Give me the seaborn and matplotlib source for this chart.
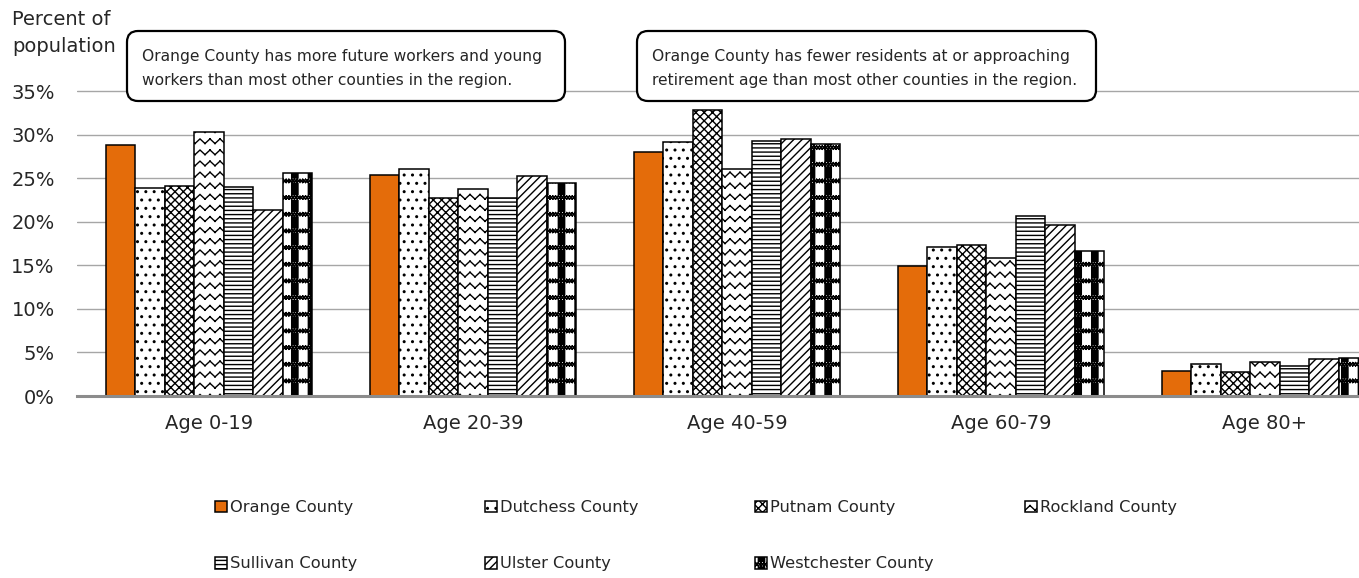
import warnings
import numpy as np
import pandas as pd
import matplotlib
matplotlib.use("Agg")
import matplotlib.pyplot as plt
import matplotlib.hatch as mhatch
from matplotlib.path import Path
from matplotlib.patches import FancyBboxPatch
from matplotlib.transforms import IdentityTransform
import seaborn as sns

# ---- data -------------------------------------------------------------
age_groups = ["Age 0-19", "Age 20-39", "Age 40-59", "Age 60-79", "Age 80+"]
counties = ["Orange County", "Dutchess County", "Putnam County", "Rockland County",
            "Sullivan County", "Ulster County", "Westchester County"]
orange_pct      = [28.8, 25.4, 28.0, 14.9, 2.9]
dutchess_pct    = [23.9, 26.1, 29.1, 17.1, 3.7]
putnam_pct      = [24.1, 22.7, 32.8, 17.3, 2.8]
rockland_pct    = [30.3, 23.8, 26.0, 15.8, 3.9]
sullivan_pct    = [24.0, 22.7, 29.3, 20.6, 3.4]
ulster_pct      = [21.3, 25.3, 29.5, 19.6, 4.3]
westchester_pct = [25.6, 24.4, 28.9, 16.6, 4.4]
y_ticks = [0, 5, 10, 15, 20, 25, 30, 35]
y_title = "Percent of\npopulation"
note_left = ["Orange County has more future workers and young",
             "workers than most other counties in the region."]
note_right = ["Orange County has fewer residents at or approaching",
              "retirement age than most other counties in the region."]

series = [orange_pct, dutchess_pct, putnam_pct, rockland_pct,
          sullivan_pct, ulster_pct, westchester_pct]
df = pd.DataFrame({
    "age": np.tile(age_groups, len(counties)),
    "county": np.repeat(counties, len(age_groups)),
    "pct": np.concatenate(series),
})

# ---- custom fill patterns ----------------------------------------------
class ZigZagHatch(mhatch.HatchPatternBase):
    """Rows of small chevrons ('z')."""
    def __init__(self, hatch, density):
        self.rows = hatch.count('z') * 9
        self.cols = 10
        self.num_vertices = self.rows * self.cols * 4

    def set_vertices_and_codes(self, vertices, codes):
        amp = 0.42 / self.rows
        pts = []
        for r in range(self.rows):
            y = (r + 0.5) / self.rows
            for c in range(self.cols):
                x0 = c / self.cols
                xm = (c + 0.5) / self.cols
                x1 = (c + 1) / self.cols
                pts += [(x0, y), (xm, y - amp), (xm, y - amp), (x1, y)]
        vertices[:] = pts
        codes[0::2] = Path.MOVETO
        codes[1::2] = Path.LINETO


class StripeCheckHatch(mhatch.HatchPatternBase):
    """Dark vertical stripes crossed by bands of small checks ('k')."""
    SEG = 6

    def __init__(self, hatch, density):
        self.n = hatch.count('k') * 6
        self.num_vertices = self.n * self.n * (5 + self.SEG * 4)

    def set_vertices_and_codes(self, vertices, codes):
        s = 1.0 / self.n
        pts, cds = [], []
        for i in range(self.n):
            for j in range(self.n):
                x0, y0 = i * s, j * s
                rx0, rx1 = x0 + 0.50 * s, x0 + 0.88 * s
                ry0, ry1 = y0 + 0.32 * s, y0 + 0.98 * s
                pts += [(rx0, ry0), (rx1, ry0), (rx1, ry1), (rx0, ry1), (rx0, ry0)]
                cds += [Path.MOVETO, Path.LINETO, Path.LINETO, Path.LINETO, Path.CLOSEPOLY]
                by0, by1 = y0 + 0.05 * s, y0 + 0.24 * s
                for k in range(self.SEG):
                    xa = x0 + k * s / self.SEG
                    xb = x0 + (k + 1) * s / self.SEG
                    pts += [(xa, by0), (xb, by1), (xa, by1), (xb, by0)]
                    cds += [Path.MOVETO, Path.LINETO, Path.MOVETO, Path.LINETO]
        vertices[:] = pts
        codes[:] = cds


mhatch._hatch_types.extend([ZigZagHatch, StripeCheckHatch])

hatches = [None, "..", "xxxx", "z", "----", "////", "k"]
ORANGE = "#E46C0A"
TEXT = "#262626"

# ---- figure -------------------------------------------------------------
sns.set_style("white")
plt.rcParams["font.family"] = ["DejaVu Sans"]
plt.rcParams["hatch.linewidth"] = 1.0
plt.rcParams["hatch.color"] = "black"

W, H = 1359, 578
fig = plt.figure(figsize=(W / 100, H / 100), dpi=100)
px_per_pct = 8.714
ax = fig.add_axes([77 / W, 182 / H, 1282 / W, 36 * px_per_pct / H])

sns.barplot(data=df, x="age", y="pct", hue="county", order=age_groups,
            hue_order=counties, palette=[ORANGE] + ["white"] * 6,
            saturation=1, edgecolor="black", linewidth=1.1, width=0.78,
            errorbar=None, legend=False, ax=ax)

with warnings.catch_warnings():
    warnings.simplefilter("ignore")
    for cont, h in zip(ax.containers, hatches):
        for bar in cont:
            bar.set_hatch(h)

ax.set_xlim(-0.5, -0.5 + 1282 / 264)
ax.set_ylim(0, 36)
ax.set_yticks(y_ticks)
ax.set_yticklabels([f"{v}%" for v in y_ticks])
ax.set_xlabel("")
ax.set_ylabel("")
ax.set_axisbelow(True)
ax.yaxis.grid(True, color="#A6A6A6", linewidth=1.0)
ax.xaxis.grid(False)
for side in ("left", "right", "top"):
    ax.spines[side].set_visible(False)
ax.spines["bottom"].set_color("#8C8C8C")
ax.spines["bottom"].set_linewidth(2.2)
ax.tick_params(axis="y", length=0, pad=16, labelsize=14, labelcolor=TEXT)
ax.tick_params(axis="x", length=0, pad=13, labelsize=14, labelcolor=TEXT)

fig.text(12 / W, 1 - 10 / H, y_title, ha="left", va="top", fontsize=14,
         color=TEXT, linespacing=1.5)

# callout boxes
for x0, width, lines in ((127, 438, note_left), (637, 459, note_right)):
    box = FancyBboxPatch((x0, H - 101), width, 70,
                         boxstyle="round,pad=0,rounding_size=11",
                         transform=IdentityTransform(), facecolor="white",
                         edgecolor="black", linewidth=1.6, zorder=5)
    fig.patches.append(box)
    for k, line in enumerate(lines):
        fig.text((x0 + 15) / W, 1 - (61 + 24 * k) / H, line, ha="left",
                 va="baseline", fontsize=11.2, color=TEXT, zorder=6)

# legend: four columns at fixed positions
handles = list(ax.containers)
columns = [[0, 4], [1, 5], [2, 6], [3]]
col_x = [215, 485, 755, 1025]
for cx, idx in zip(col_x, columns):
    fig.legend([handles[i] for i in idx], [counties[i] for i in idx],
               loc="upper left", bbox_to_anchor=(cx / W, 1 - 500 / H),
               frameon=False, fontsize=11.7, borderpad=0, borderaxespad=0,
               handlelength=0.72, handleheight=0.72, handletextpad=0.2,
               labelspacing=2.55, labelcolor=TEXT)

fig.savefig("out.png", dpi=100)
